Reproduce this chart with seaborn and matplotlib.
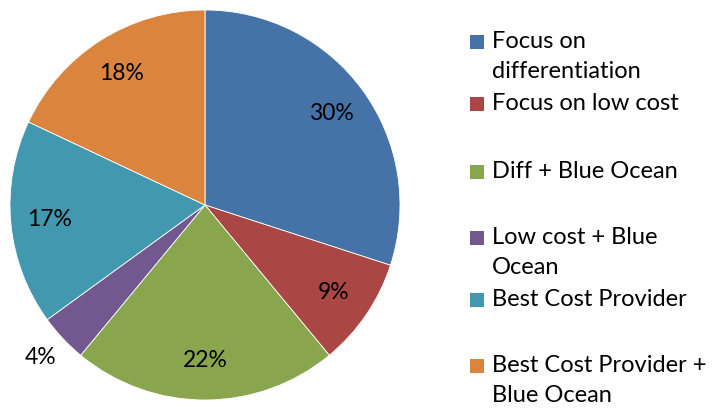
import matplotlib
matplotlib.use("Agg")
import matplotlib.pyplot as plt
from matplotlib.patches import Rectangle
import numpy as np
import seaborn as sns

sns.set_theme(style="white")
plt.rcParams['font.family'] = ['Lato', 'DejaVu Sans']

categories = ["Focus on\ndifferentiation", "Focus on low cost", "Diff + Blue Ocean",
              "Low cost + Blue\nOcean", "Best Cost Provider", "Best Cost Provider +\nBlue Ocean"]
shares = [30, 9, 22, 4, 17, 18]
colors = ["#4572A7", "#AA4643", "#89A54E", "#71588F", "#4198AF", "#DB843D"]

W, H = 712, 412
fig = plt.figure(figsize=(W / 100, H / 100), dpi=100)
cx, cy, r = 205, 205, 195
ax = fig.add_axes([(cx - r) / W, (H - cy - r) / H, 2 * r / W, 2 * r / H])

wedges, texts, autotexts = ax.pie(
    shares, colors=colors, startangle=90, counterclock=False,
    autopct=lambda p: f"{p:.0f}%", pctdistance=0.80,
    wedgeprops=dict(edgecolor="white", linewidth=0.6),
    textprops=dict(fontsize=16.5, color="black"))
ax.set_xlim(-1, 1)
ax.set_ylim(-1, 1)
ax.set_aspect("equal")

# small slice: label placed outside the pie
for w, t, v in zip(wedges, autotexts, shares):
    if v < 5:
        ang = np.deg2rad((w.theta1 + w.theta2) / 2)
        t.set_position((1.16 * np.cos(ang), 1.14 * np.sin(ang)))

# legend drawn as stacked entries
entry_y = [42, 104, 172, 238, 300, 366]
for lab, col, y in zip(categories, colors, entry_y):
    fig.patches.append(Rectangle((470 / W, 1 - (y + 7) / H), 14 / W, 14 / H,
                                 transform=fig.transFigure, facecolor=col,
                                 edgecolor="none"))
    fig.text(492 / W, 1 - (y - 11) / H, lab, fontsize=17, va="top", ha="left",
             linespacing=1.55, color="black")

fig.savefig("out.png", dpi=100)
